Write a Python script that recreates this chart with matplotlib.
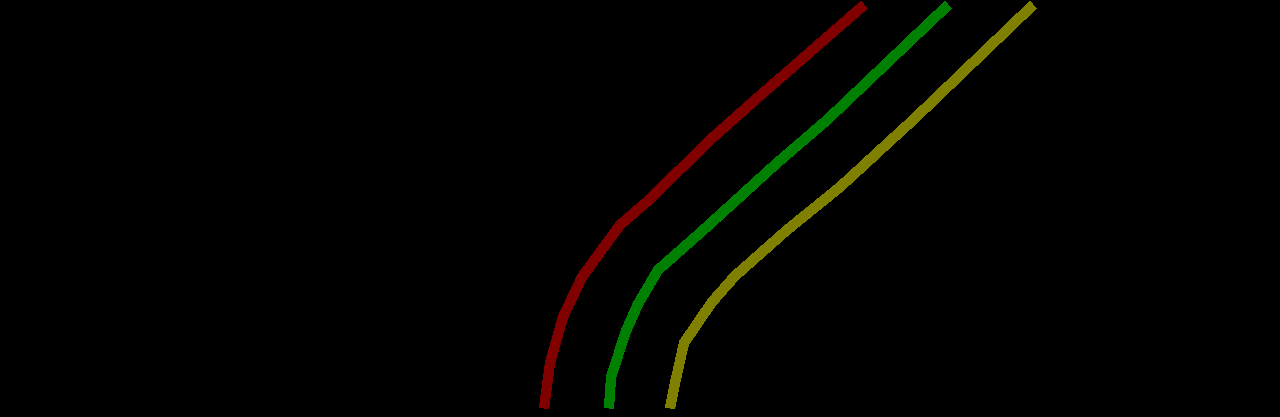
import matplotlib
matplotlib.use("Agg")
import matplotlib.pyplot as plt

# traced paths (x, y in image pixels, y down)
red_x = [544, 550, 563, 582, 620, 650, 710, 755, 864]
red_y = [408, 363, 317, 277, 225, 199, 140, 100, 5]

green_x = [609, 611, 626, 638, 658, 700, 777, 827, 948]
green_y = [408, 377, 331, 304, 270, 233, 163, 120, 5]

olive_x = [670, 675, 684, 712, 735, 787, 840, 913, 1033]
olive_y = [408, 383, 343, 302, 276, 230, 187, 120, 5]

series = [
    (red_x, red_y, "#800000"),
    (green_x, green_y, "#008000"),
    (olive_x, olive_y, "#808000"),
]

fig = plt.figure(figsize=(12.8, 4.17), dpi=100, facecolor="black")
ax = fig.add_axes([0, 0, 1, 1])
ax.set_facecolor("black")

for xs, ys, col in series:
    ax.plot(xs, ys, color=col, linewidth=6.6, solid_capstyle="butt",
            solid_joinstyle="miter", antialiased=False)

ax.set_xlim(0, 1280)
ax.set_ylim(417, 0)
ax.axis("off")

fig.savefig("out.png", dpi=100, facecolor="black")
